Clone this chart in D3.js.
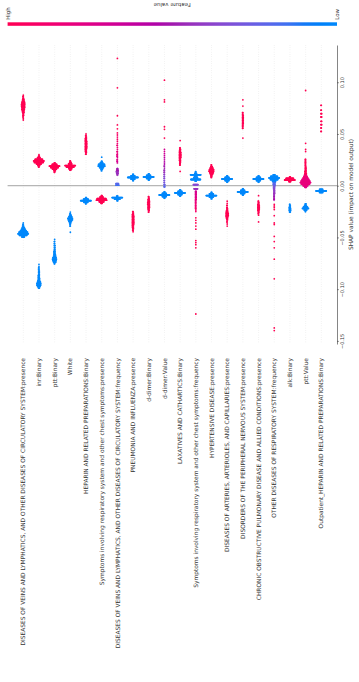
<!DOCTYPE html>
<html><head><meta charset="utf-8">
<script src="https://cdn.jsdelivr.net/npm/d3@7"></script>
<style>html,body{margin:0;padding:0;background:#fff;} svg{display:block;font-family:"DejaVu Sans",sans-serif;}</style>
</head><body><svg id="c" width="359" height="682"></svg>
<script>
// ---------- DATA ----------
const features = [
 "DISEASES OF VEINS AND LYMPHATICS, AND OTHER DISEASES OF CIRCULATORY SYSTEM:presence",
 "inr:Binary",
 "ptt:Binary",
 "White",
 "HEPARIN AND RELATED PREPARATIONS:Binary",
 "Symptoms involving respiratory system and other chest symptoms:presence",
 "DISEASES OF VEINS AND LYMPHATICS, AND OTHER DISEASES OF CIRCULATORY SYSTEM:frequency",
 "PNEUMONIA AND INFLUENZA:presence",
 "d-dimer:Binary",
 "d-dimer:Value",
 "LAXATIVES AND CATHARTICS:Binary",
 "Symptoms involving respiratory system and other chest symptoms:frequency",
 "HYPERTENSIVE DISEASE:presence",
 "DISEASES OF ARTERIES, ARTERIOLES, AND CAPILLARIES:presence",
 "DISORDERS OF THE PERIPHERAL NERVOUS SYSTEM:presence",
 "CHRONIC OBSTRUCTIVE PULMONARY DISEASE AND ALLIED CONDITIONS:presence",
 "OTHER DISEASES OF RESPIRATORY SYSTEM:frequency",
 "alk:Binary",
 "ptt:Value",
 "Outpatient_HEPARIN AND RELATED PREPARATIONS:Binary"
];
// each entry: [SHAP value, feature value (0 low .. 1 high), number of samples]
const f01 = [[0.0875,1,1],[0.086,1,2],[0.0845,1,3],[0.083,1,5],[0.0815,1,7],[0.080,1,9],[0.0785,1,10],[0.077,1,10],[0.0755,1,9],[0.074,1,8],[0.0725,1,6],[0.071,1,5],[0.0695,1,3],[0.068,1,3],[0.0665,1,2],[0.065,1,1],[0.0635,1,1],
 [-0.036,0,1],[-0.0375,0,2],[-0.039,0,4],[-0.0405,0,7],[-0.042,0,11],[-0.0435,0,17],[-0.045,0,25],[-0.0465,0,30],[-0.048,0,22],[-0.0495,0,8]];
const f02 = [[0.030,1,1],[0.0285,1,3],[0.027,1,8],[0.0255,1,22],[0.024,1,30],[0.0225,1,26],[0.021,1,14],[0.0195,1,6],[0.018,1,2],
 [-0.076,0,1],[-0.078,0,1],[-0.0795,0,2],[-0.081,0,2],[-0.0825,0,3],[-0.084,0,3],[-0.0855,0,3],[-0.087,0,4],[-0.0885,0,4],[-0.090,0,5],[-0.0915,0,6],[-0.093,0,9],[-0.0945,0,12],[-0.096,0,12],[-0.0975,0,8],[-0.099,0,3]];
const f03 = [[0.022,1,3],[0.0205,1,14],[0.019,1,30],[0.0175,1,22],[0.016,1,12],[0.0145,1,5],[0.013,1,2],
 [-0.052,0,1],[-0.054,0,2],[-0.056,0,2],[-0.058,0,3],[-0.060,0,3],[-0.062,0,3],[-0.0635,0,4],[-0.065,0,4],[-0.0665,0,5],[-0.068,0,7],[-0.0695,0,10],[-0.071,0,12],[-0.0725,0,10],[-0.074,0,7],[-0.0755,0,2]];
const f04 = [[0.024,1,2],[0.0225,1,5],[0.021,1,10],[0.0195,1,30],[0.018,1,22],[0.0165,1,9],[0.015,1,3],
 [-0.0255,0,1],[-0.027,0,2],[-0.0285,0,5],[-0.030,0,9],[-0.0315,0,14],[-0.033,0,13],[-0.0345,0,8],[-0.036,0,4],[-0.0375,0,2],[-0.039,0,2],[-0.045,0,1]];
const f05 = [[0.050,1,1],[0.0485,1,2],[0.047,1,3],[0.0455,1,4],[0.044,1,4],[0.0425,1,5],[0.041,1,5],[0.0395,1,5],[0.038,1,5],[0.0365,1,5],[0.035,1,4],[0.0335,1,4],[0.032,1,3],[0.0305,1,2],
 [-0.0115,0,3],[-0.013,0,14],[-0.0145,0,30],[-0.016,0,12],[-0.0175,0,2]];
const f06 = [[0.0276,0,1],[0.0235,0,3],[0.022,0,8],[0.0205,0,18],[0.019,0,20],[0.0175,0,12],[0.016,0,5],[0.0145,0,2],
 [-0.0095,1,3],[-0.011,1,10],[-0.0125,1,26],[-0.014,1,30],[-0.0155,1,14],[-0.017,1,4]];
const f07 = [[-0.010,0,4],[-0.0115,0,30],[-0.013,0,16],[-0.0145,0,3],
 [0.0005,0.15,9],[0.002,0.2,8],
 [0.0105,0.45,3],[0.012,0.45,5],[0.0135,0.45,6],[0.015,0.5,5],[0.0165,0.5,3],
 [0.022,0.7,1],[0.0235,0.7,2],[0.025,0.75,2],[0.027,0.75,1],[0.0285,0.75,2],[0.030,0.8,2],[0.0315,0.8,1],[0.033,0.8,2],[0.035,0.8,1],[0.037,0.85,1],[0.039,0.85,2],[0.041,0.85,1],[0.043,0.9,1],[0.045,0.9,1],[0.047,0.9,1],[0.049,0.9,1],[0.051,0.95,1],
 [0.055,1,1],[0.0587,1,1],[0.0676,1,1],[0.0946,1,1],[0.123,1,1]];
const f08 = [[0.011,0,3],[0.0095,0,12],[0.008,0,30],[0.0065,0,12],[0.005,0,3],
 [-0.025,1,2],[-0.0265,1,3],[-0.028,1,4],[-0.0295,1,5],[-0.031,1,5],[-0.0325,1,5],[-0.034,1,5],[-0.0355,1,5],[-0.037,1,5],[-0.0385,1,4],[-0.040,1,4],[-0.0415,1,3],[-0.043,1,2],[-0.0445,1,1]];
const f09 = [[0.0115,0,3],[0.010,0,12],[0.0085,0,30],[0.007,0,12],[0.0055,0,3],
 [-0.0105,1,2],[-0.012,1,3],[-0.0135,1,4],[-0.015,1,5],[-0.0165,1,6],[-0.018,1,6],[-0.0195,1,5],[-0.021,1,5],[-0.0225,1,4],[-0.024,1,3],[-0.0255,1,2]];
const f10 = [[-0.006,0,3],[-0.0075,0,12],[-0.009,0,30],[-0.0105,0,12],[-0.012,0,3],
 [-0.001,0.2,3],[0.001,0.25,3],[0.003,0.3,2],[0.005,0.3,2],[0.007,0.35,2],[0.009,0.35,2],[0.011,0.4,2],[0.013,0.45,2],[0.015,0.45,2],[0.017,0.5,1],[0.019,0.5,2],[0.021,0.55,1],[0.023,0.55,1],[0.025,0.6,1],[0.027,0.6,1],[0.029,0.65,1],[0.031,0.65,1],[0.033,0.7,1],[0.035,0.7,1],
 [0.046,1,1],[0.0545,1,1],[0.057,1,1],[0.081,1,1],[0.083,1,1],[0.102,1,1]];
const f11 = [[-0.004,0,3],[-0.0055,0,12],[-0.007,0,30],[-0.0085,0,12],[-0.010,0,3],
 [0.0436,1,1],[0.0365,1,2],[0.035,1,3],[0.0335,1,4],[0.032,1,5],[0.0305,1,5],[0.029,1,5],[0.0275,1,5],[0.026,1,4],[0.0245,1,4],[0.023,1,3],[0.0215,1,2],[0.020,1,2],[0.0138,1,1]];
const f12 = [[0.0135,0,2],[0.012,0,6],[0.0105,0,30],[0.009,0,8],[0.0075,0,12],[0.006,0,28],[0.0045,0,4],
 [0.001,0.35,14],[-0.003,0.45,11],
 [-0.0055,0.7,3],[-0.007,0.7,3],[-0.0085,0.75,3],[-0.010,0.75,3],[-0.0115,0.75,3],[-0.013,0.8,3],[-0.0145,0.8,2],[-0.016,0.8,2],[-0.0175,0.85,2],[-0.019,0.85,2],[-0.0205,0.85,2],[-0.022,0.9,2],[-0.0235,0.9,1],[-0.025,0.9,1],
 [-0.031,1,1],[-0.0335,1,1],[-0.036,1,1],[-0.039,1,1],[-0.042,1,1],[-0.053,1,1],[-0.055,1,1],[-0.057,1,1],[-0.060,1,1],[-0.124,1,1]];
const f13 = [[0.020,1,2],[0.0185,1,5],[0.017,1,9],[0.0155,1,13],[0.014,1,14],[0.0125,1,11],[0.011,1,7],[0.0095,1,4],[0.008,1,2],
 [-0.0065,0,3],[-0.008,0,12],[-0.0095,0,30],[-0.011,0,12],[-0.0125,0,3]];
const f14 = [[0.0095,0,3],[0.008,0,12],[0.0065,0,30],[0.005,0,12],[0.0035,0,3],
 [-0.015,1,1],[-0.017,1,1],[-0.019,1,2],[-0.021,1,2],[-0.0225,1,3],[-0.024,1,4],[-0.0255,1,6],[-0.027,1,7],[-0.0285,1,7],[-0.030,1,6],[-0.0315,1,4],[-0.033,1,3],[-0.035,1,2],[-0.037,1,1],[-0.039,1,1]];
const f15 = [[0.083,1,1],[0.077,1,1],[0.0705,1,2],[0.069,1,2],[0.0675,1,3],[0.066,1,3],[0.0645,1,3],[0.063,1,3],[0.0615,1,3],[0.060,1,3],[0.0585,1,2],[0.057,1,2],[0.0555,1,2],[0.046,1,1],
 [-0.003,0,3],[-0.0045,0,12],[-0.006,0,30],[-0.0075,0,12],[-0.009,0,3]];
const f16 = [[0.0095,0,3],[0.008,0,12],[0.0065,0,30],[0.005,0,12],[0.0035,0,3],
 [-0.0096,1,1],[-0.015,1,2],[-0.0165,1,3],[-0.018,1,4],[-0.0195,1,5],[-0.021,1,5],[-0.0225,1,5],[-0.024,1,4],[-0.0255,1,3],[-0.027,1,2],[-0.0285,1,1],[-0.035,1,1]];
const f17 = [[0.0105,0,6],[0.009,0,20],[0.0075,0,30],[0.006,0,22],[0.0045,0,10],
 [0.003,0.15,7],[0.0015,0.2,6],[0,0.25,5],[-0.0015,0.3,4],[-0.003,0.35,4],[-0.0045,0.4,3],[-0.006,0.4,3],[-0.0075,0.45,3],[-0.009,0.45,2],[-0.0105,0.5,2],[-0.012,0.5,2],[-0.0135,0.55,2],
 [-0.018,1,1],[-0.0195,1,1],[-0.021,1,1],[-0.023,1,1],[-0.029,1,1],[-0.036,1,1],[-0.0375,1,1],[-0.049,1,1],[-0.054,1,1],[-0.060,1,1],[-0.071,1,1],[-0.090,1,1],[-0.1375,1,1],[-0.140,1,1]];
const f18 = [[0.0085,1,3],[0.007,1,22],[0.0055,1,30],[0.004,1,6],
 [-0.018,0,2],[-0.0195,0,3],[-0.021,0,4],[-0.0225,0,5],[-0.024,0,5],[-0.0255,0,3]];
const f19 = [[0.0105,0.9,6],[0.009,0.85,10],[0.0075,0.85,14],[0.006,0.8,20],[0.0045,0.8,26],[0.003,0.8,30],[0.0015,0.8,24],[0,0.8,14],[-0.0015,0.75,5],
 [0.092,1,1],[0.041,1,1],[0.035,1,1],[0.033,1,1],[0.0255,1,2],[0.024,1,2],[0.0225,1,2],[0.021,1,2],[0.0195,1,2],[0.018,1,3],[0.0165,1,3],[0.015,1,3],[0.0135,1,4],[0.012,1,5],
 [-0.0175,0,3],[-0.019,0,6],[-0.0205,0,12],[-0.022,0,18],[-0.0235,0,8],[-0.025,0,2]];
const f20 = [[0.0777,1,2],[0.073,1,2],[0.0696,1,3],[0.0664,1,3],[0.0622,1,3],[0.059,1,3],[0.0558,1,2],[0.0525,1,2],
 [-0.0035,0,10],[-0.005,0,30],[-0.0065,0,10]];
const featureData = [f01,f02,f03,f04,f05,f06,f07,f08,f09,f10,f11,f12,f13,f14,f15,f16,f17,f18,f19,f20];
const tickValues = [-0.15,-0.10,-0.05,0.00,0.05,0.10];
const axisTitle = "SHAP value (impact on model output)";
const colorbarTitle = "Feature value";
const colorbarLabels = ["High","Low"];

// ---------- RENDER ----------
const svg = d3.select("#c");
const FONT = "DejaVu Sans";
const TXT = "#333333";

// SHAP red_blue colormap (Lch interpolation), t=0 low (blue) .. t=1 high (red)
function shapColor(t){
  const l = t < 0.5 ? 54 - 28*t : 40 + 28*(t-0.5);
  const c = 70 + 20*t;
  const h = 266.93 + (380.32-266.93)*t;
  return d3.hcl(h % 360, c, l).formatHex();
}

const xF = d3.scalePoint().domain(features).range([7.6, 337]).padding(1);
const step = xF.step();
const y = d3.scaleLinear().domain([-0.153, 0.136]).range([344, 45]);

// gridlines
svg.append("g").selectAll("line").data(features).join("line")
  .attr("x1", d=>xF(d)).attr("x2", d=>xF(d)).attr("y1", 45).attr("y2", 344)
  .attr("stroke","#cccccc").attr("stroke-width",0.5).attr("stroke-dasharray","0.5,1.8");
// zero line
svg.append("line").attr("x1",7.6).attr("x2",337).attr("y1",y(0)).attr("y2",y(0))
  .attr("stroke","#999999").attr("stroke-width",0.9);

// beeswarm layout (same as shap summary_plot)
function swarm(groups){
  const pts = [];
  groups.forEach(g => { for(let k=0;k<g[2];k++) pts.push({v:g[0], fv:g[1]}); });
  const mn = d3.min(pts,p=>p.v), mx = d3.max(pts,p=>p.v);
  const nb = 100;
  pts.forEach(p => p.q = Math.round(nb*(p.v-mn)/(mx-mn+1e-8)));
  const order = d3.range(pts.length).sort((a,b)=> pts[a].q - pts[b].q || a-b);
  let layer=0, last=-1;
  order.forEach(i => { const p=pts[i]; if(p.q!==last) layer=0;
    p.off = Math.ceil(layer/2)*((layer%2)*2-1); layer++; last=p.q; });
  const m = d3.max(pts,p=>p.off+1);
  pts.forEach(p => p.off *= 0.9*(0.4/m));
  return pts;
}

const dots = svg.append("g");
features.forEach((f,i) => {
  const pts = swarm(featureData[i]);
  dots.append("g").selectAll("circle").data(pts).join("circle")
    .attr("cx", p => xF(f) - p.off*step)
    .attr("cy", p => y(p.v))
    .attr("r", 0.9)
    .attr("fill", p => shapColor(p.fv));
});

// feature labels
svg.append("g").selectAll("text").data(features).join("text")
  .attr("transform", d => `translate(${xF(d)+2.1},358) rotate(-90)`)
  .attr("text-anchor","end").attr("font-family",FONT).attr("font-size",5.9)
  .attr("fill",TXT).text(d=>d);

// SHAP axis (right side, vertical)
const ax = svg.append("g").attr("transform","translate(337,0)")
  .call(d3.axisRight(y).tickValues(tickValues).tickFormat(d3.format(".2f")).tickSize(2).tickSizeOuter(0));
ax.select(".domain").attr("stroke",TXT).attr("stroke-width",0.6);
ax.selectAll(".tick line").attr("stroke",TXT).attr("stroke-width",0.5);
ax.selectAll(".tick text").attr("x",null).attr("dy",null)
  .attr("transform","translate(7,0) rotate(-90)").attr("text-anchor","middle")
  .attr("font-family",FONT).attr("font-size",5).attr("fill",TXT);
svg.append("text").attr("transform",`translate(352.5,${(45+344)/2}) rotate(-90)`)
  .attr("text-anchor","middle").attr("font-family",FONT).attr("font-size",5.9)
  .attr("fill",TXT).text(axisTitle);

// colorbar (top)
const grad = svg.append("defs").append("linearGradient").attr("id","cb")
  .attr("x1","0%").attr("x2","100%").attr("y1","0%").attr("y2","0%");
d3.range(0,1.0001,0.05).forEach(s => grad.append("stop")
  .attr("offset", (s*100)+"%").attr("stop-color", shapColor(1-s)));
svg.append("rect").attr("x",7.6).attr("y",22.3).attr("width",337-7.6).attr("height",3.5)
  .attr("fill","url(#cb)");
[[7.6,colorbarLabels[0]],[337,colorbarLabels[1]]].forEach(([x,t]) =>
  svg.append("text").attr("transform",`translate(${x+2},19.8) rotate(-90)`)
    .attr("text-anchor","start").attr("font-family",FONT).attr("font-size",5.45)
    .attr("fill",TXT).text(t));
svg.append("text").attr("transform",`translate(${(7.6+337)/2},2.8) rotate(180)`)
  .attr("text-anchor","middle").attr("font-family",FONT).attr("font-size",5.45)
  .attr("fill",TXT).text(colorbarTitle);
</script>
</body></html>
